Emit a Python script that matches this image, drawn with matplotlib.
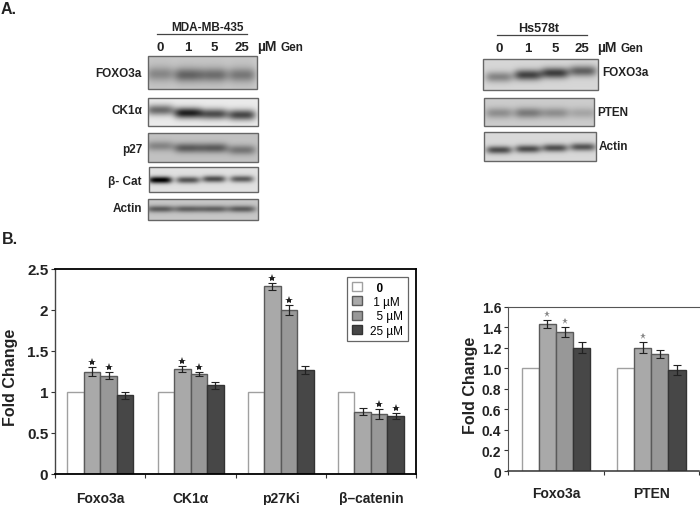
import matplotlib
matplotlib.use('Agg')
import matplotlib.pyplot as plt
import numpy as np
from matplotlib.patches import Rectangle

plt.rcParams['font.family'] = ['Liberation Sans', 'DejaVu Sans']
plt.rcParams['font.weight'] = 'bold'
plt.rcParams['axes.labelweight'] = 'bold'

# bar data
groups_left = ['Foxo3a', 'CK1α', 'p27Ki', 'β–catenin']
doses = ['0', '1 µM', '5 µM', '25 µM']
left_0 = [1, 1, 1, 1]
left_1 = [1.25, 1.28, 2.29, 0.76]
left_5 = [1.20, 1.22, 2.00, 0.73]
left_25 = [0.96, 1.08, 1.27, 0.71]
left_err_1 = [0.05, 0.04, 0.04, 0.04]
left_err_5 = [0.04, 0.03, 0.06, 0.06]
left_err_25 = [0.04, 0.04, 0.05, 0.04]
left_stars_1 = [1, 1, 1, 0]
left_stars_5 = [1, 1, 1, 1]
left_stars_25 = [0, 0, 0, 1]

groups_right = ['Foxo3a', 'PTEN']
right_0 = [1, 1]
right_1 = [1.43, 1.20]
right_5 = [1.35, 1.14]
right_25 = [1.20, 0.98]
right_err_1 = [0.04, 0.05]
right_err_5 = [0.05, 0.04]
right_err_25 = [0.05, 0.05]
right_stars_1 = [1, 1]
right_stars_5 = [1, 0]
right_stars_25 = [0, 0]

# blot band darkness per lane (0 = none, 1 = black), read by eye
foxo_435 = [0.22, 0.36, 0.32, 0.28]
ck1_435 = [0.50, 0.80, 0.62, 0.64]
p27_435 = [0.24, 0.40, 0.40, 0.30]
bcat_435 = [0.90, 0.55, 0.58, 0.52]
actin_435 = [0.42, 0.40, 0.40, 0.42]
foxo_hs = [0.32, 0.58, 0.60, 0.46]
pten_hs = [0.24, 0.32, 0.24, 0.15]
actin_hs = [0.55, 0.55, 0.54, 0.52]

FILL = ['white', '#a9a9a9', '#989898', '#474747']
EDGE = ['#a0a0a0', '#5a5a5a', '#5a5a5a', '#333333']
W, H = 700, 506


def axes_px(x0, y0, x1, y1):
    return fig.add_axes([x0 / W, 1 - y1 / H, (x1 - x0) / W, (y1 - y0) / H])


def bars(ax, names, series, errs, stars, width, star_size, star_color, star_gap):
    x = np.arange(len(names)) + 0.5
    hs = []
    for i, vals in enumerate(series):
        pos = x + (i - 1.5) * width
        b = ax.bar(pos, vals, width, color=FILL[i], edgecolor=EDGE[i], lw=1.0, label=doses[i], zorder=2)
        hs.append(b)
        if i > 0:
            ax.errorbar(pos, vals, yerr=errs[i - 1], fmt='none', ecolor='#222222', elinewidth=0.9,
                        capsize=2.6, capthick=0.8, zorder=3)
            for p, v, e, s in zip(pos, vals, errs[i - 1], stars[i - 1]):
                if s:
                    ax.plot(p, v + e + star_gap, '*', ms=star_size, color=star_color, mew=0, zorder=4)
    ax.set_xlim(0, len(names))
    ax.set_xticks(np.arange(len(names) + 1))
    ax.set_xticklabels([])
    ax.set_xticks(x, minor=True)
    ax.set_xticklabels(names, minor=True)
    ax.tick_params(axis='x', which='minor', length=0, pad=12, labelsize=10, colors='#222222')
    ax.tick_params(axis='x', which='major', length=3, width=0.8, color='#333333')
    ax.tick_params(axis='y', length=3, width=0.8, labelsize=11, pad=2, labelcolor='#222222', color='#333333')
    return hs


def blot(bg, x0, y0, x1, y1, lanes, band_y, dark, band_h, lane_w, base=0.82, smear=0.0):
    # band picture on the pixel overlay
    nx, ny = int(x1 - x0) * 2, int(y1 - y0) * 2
    xs = np.linspace(x0, x1, nx)
    ys = np.linspace(y0, y1, ny)
    xx, yy = np.meshgrid(xs, ys)
    img = np.zeros_like(xx)
    for lx, ly, d in zip(lanes, band_y, dark):
        img += d * np.exp(-((xx - lx) / lane_w) ** 4) * np.exp(-((yy - ly) / band_h) ** 2)
        if smear:
            img += smear * np.exp(-((xx - lx) / lane_w) ** 4) * np.exp(-((yy - ly) / (band_h * 3)) ** 2)
    img = np.clip(base - img, 0, 1)
    bg.imshow(img, extent=(x0, x1, y1, y0), cmap='gray', vmin=0, vmax=1, aspect='auto',
              interpolation='bilinear', zorder=1)
    bg.add_patch(Rectangle((x0, y0), x1 - x0, y1 - y0, fc='none', ec='#666666', lw=1.0, zorder=2))


fig = plt.figure(figsize=(W / 100, H / 100), dpi=100)

# pixel overlay for the blots and panel labels
bg = fig.add_axes([0, 0, 1, 1])
bg.set_xlim(0, W)
bg.set_ylim(H, 0)
bg.axis('off')

lanes_l = [160, 188, 214, 242]
lanes_r = [499, 528, 555, 583]
blot(bg, 148, 57, 257, 90, lanes_l, [75, 76, 76, 76], foxo_435, 7, 14, base=0.80, smear=0.05)
blot(bg, 148, 99, 258, 127, lanes_l, [111, 114, 115, 116], ck1_435, 5.5, 14, base=0.92)
blot(bg, 148, 134, 258, 163, lanes_l, [147, 149, 149, 151], p27_435, 5, 14, base=0.76)
blot(bg, 149, 168, 258, 193, lanes_l, [181, 181, 180, 180], bcat_435, 3.5, 12, base=0.88)
blot(bg, 148, 200, 258, 221, lanes_l, [210, 210, 210, 210], actin_435, 3.5, 14, base=0.78)
blot(bg, 483, 60, 598, 91, lanes_r, [78, 76, 74, 72], foxo_hs, 5.5, 14, base=0.84)
blot(bg, 484, 99, 594, 127, lanes_r, [114, 114, 114, 114], pten_hs, 5.5, 14, base=0.80)
blot(bg, 484, 133, 596, 162, lanes_r, [151, 150, 149, 148], actin_hs, 4, 13, base=0.85)
bg.set_xlim(0, W)
bg.set_ylim(H, 0)

bg.text(1, 9, 'A.', fontsize=11.5, va='center', color='#222222')
bg.text(2, 240, 'B.', fontsize=11.5, va='center', color='#222222')

bg.text(207, 28, 'MDA-MB-435', fontsize=8.5, ha='center', va='center', color='#222222')
bg.plot([157, 247], [35, 35], color='#444444', lw=0.9)
for lx, t in zip([160, 188, 214, 242], ['0', '1', '5', '25']):
    bg.text(lx, 48, t, fontsize=9.5, ha='center', va='center', color='#222222')
bg.text(267, 47, 'µM', fontsize=10, ha='center', va='center', color='#222222')
bg.text(292, 48, 'Gen', fontsize=8.5, ha='center', va='center', color='#222222')

for y, t in zip([74, 111, 150, 182, 209], ['FOXO3a', 'CK1α', 'p27', 'β- Cat', 'Actin']):
    bg.text(142, y, t, fontsize=8.5, ha='right', va='center', color='#222222')

bg.text(539, 29, 'Hs578t', fontsize=9, ha='center', va='center', color='#222222')
bg.plot([497, 587], [36, 36], color='#444444', lw=0.9)
for lx, t in zip(lanes_r, ['0', '1', '5', '25']):
    bg.text(lx + (0 if t != '25' else -1), 49, t, fontsize=9.5, ha='center', va='center', color='#222222')
bg.text(607, 48, 'µM', fontsize=10, ha='center', va='center', color='#222222')
bg.text(632, 49, 'Gen', fontsize=8.5, ha='center', va='center', color='#222222')
for x, y, t in [(602, 73, 'FOXO3a'), (597, 113, 'PTEN'), (599, 147, 'Actin')]:
    bg.text(x, y, t, fontsize=8.5, ha='left', va='center', color='#222222')

# left bar chart
ax = axes_px(55.3, 270, 416, 475)
hs = bars(ax, groups_left, [left_0, left_1, left_5, left_25],
          [left_err_1, left_err_5, left_err_25],
          [left_stars_1, left_stars_5, left_stars_25], 0.183, 6, '#222222', 0.06)
ax.set_ylim(0, 2.5)
ax.set_yticks([0, 0.5, 1, 1.5, 2, 2.5])
ax.set_yticklabels(['0', '0.5', '1', '1.5', '2', '2.5'])
ax.set_ylabel('Fold Change', fontsize=11.5, color='#222222')
ax.yaxis.set_label_coords(-0.103, 0.478)
for s in ['top', 'right']:
    ax.spines[s].set_linewidth(1.3)
    ax.spines[s].set_color('black')
ax.spines['bottom'].set_linewidth(1.3)
ax.spines['left'].set_linewidth(1.0)
ax.spines['left'].set_color('#444444')
leg = ax.legend(handles=hs, labels=['  0', ' 1 µM', '  5 µM', '25 µM'], loc='upper left',
                bbox_to_anchor=(0.81, 0.962), borderaxespad=0, handlelength=0.8,
                handleheight=0.8, handletextpad=0.7, labelspacing=0.2, borderpad=0.4,
                fancybox=False, framealpha=1, edgecolor='#666666', prop={'size': 8.5, 'weight': 'normal'})
leg.get_frame().set_linewidth(0.9)
leg.get_texts()[0].set_fontweight('bold')
leg.set_zorder(5)

# right bar chart
ax2 = axes_px(508.3, 307.5, 699, 472)
bars(ax2, groups_right, [right_0, right_1, right_5, right_25],
     [right_err_1, right_err_5, right_err_25],
     [right_stars_1, right_stars_5, right_stars_25], 0.18, 5, '#888888', 0.06)
ax2.set_ylim(0, 1.6)
ax2.set_yticks(np.arange(0, 1.7, 0.2))
ax2.set_yticklabels(['0', '0.2', '0.4', '0.6', '0.8', '1.0', '1.2', '1.4', '1.6'])
ax2.tick_params(axis='y', labelsize=10)
ax2.tick_params(axis='x', which='minor', pad=11, labelsize=10)
ax2.set_ylabel('Fold Change', fontsize=11.5, color='#222222')
ax2.yaxis.set_label_coords(-0.159, 0.527)
ax2.spines['right'].set_visible(False)
for s in ['top', 'left']:
    ax2.spines[s].set_color('#555555')
ax2.spines['bottom'].set_color('#333333')
ax2.spines['bottom'].set_linewidth(1.1)

fig.savefig('out.png', dpi=100)
